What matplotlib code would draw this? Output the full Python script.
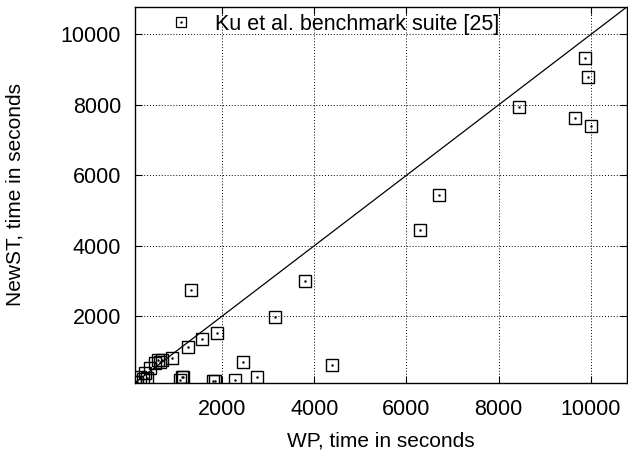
import matplotlib.pyplot as plt

plt.rcParams['font.family'] = ['Liberation Sans', 'DejaVu Sans']

# WP time (x) vs NewST time (y)
wp = [1314, 6707, 6289, 3809, 3150, 1885, 1553, 1262, 902, 649, 612, 540, 432, 323,
      215, 143, 286, 360, 120, 9883, 9948, 8451, 9666, 9998, 2456, 1154, 1082,
      1800, 1850, 2275, 2761, 4386, 685, 1119]
newst = [2744, 5437, 4452, 2994, 1989, 1525, 1346, 1110, 807, 711, 759, 665, 523, 381,
         267, 142, 210, 239, 120, 9318, 8798, 7937, 7614, 7398, 711, 284, 190,
         150, 165, 190, 267, 616, 759, 267]

lim = [110, 10780]
ticks = [2000, 4000, 6000, 8000, 10000]

fig = plt.figure(figsize=(6.28, 4.5), dpi=100)
ax = fig.add_axes([0.215, 0.1496, 0.783, 0.8348])

ax.plot([0, 12000], [0, 12000], color='black', lw=0.9, zorder=2)
ax.plot(wp, newst, linestyle='none', marker='s', markersize=9, markerfacecolor='none',
        markeredgecolor='black', markeredgewidth=1.0, zorder=3)
ax.plot(wp, newst, linestyle='none', marker='.', markersize=1.5, color='black', zorder=3)

ax.set_xlim(lim)
ax.set_ylim(lim)
ax.set_xticks(ticks)
ax.set_yticks(ticks)
ax.grid(True, linestyle=(0, (1, 2)), color='black', lw=0.7)
ax.tick_params(direction='in', length=5, top=True, right=True, labelsize=15.5)
ax.tick_params(axis='x', pad=12)
ax.tick_params(axis='y', pad=10)
for s in ax.spines.values():
    s.set_linewidth(1.0)

ax.set_xlabel('WP, time in seconds', fontsize=15, labelpad=8)
ax.set_ylabel('NewST, time in seconds', fontsize=15, labelpad=26)

# legend entry: small box with a dot inside
box, = ax.plot([], [], linestyle='none', marker='s', markersize=7, markerfacecolor='none',
               markeredgecolor='black', markeredgewidth=0.9)
dot, = ax.plot([], [], linestyle='none', marker='.', markersize=1.5, color='black')
ax.legend([(box, dot)], ['Ku et al. benchmark suite [25]'], loc='upper left',
          bbox_to_anchor=(0.01, 1.034), frameon=False, fontsize=15.5, handletextpad=0.6)

fig.savefig('out.png', dpi=100)
